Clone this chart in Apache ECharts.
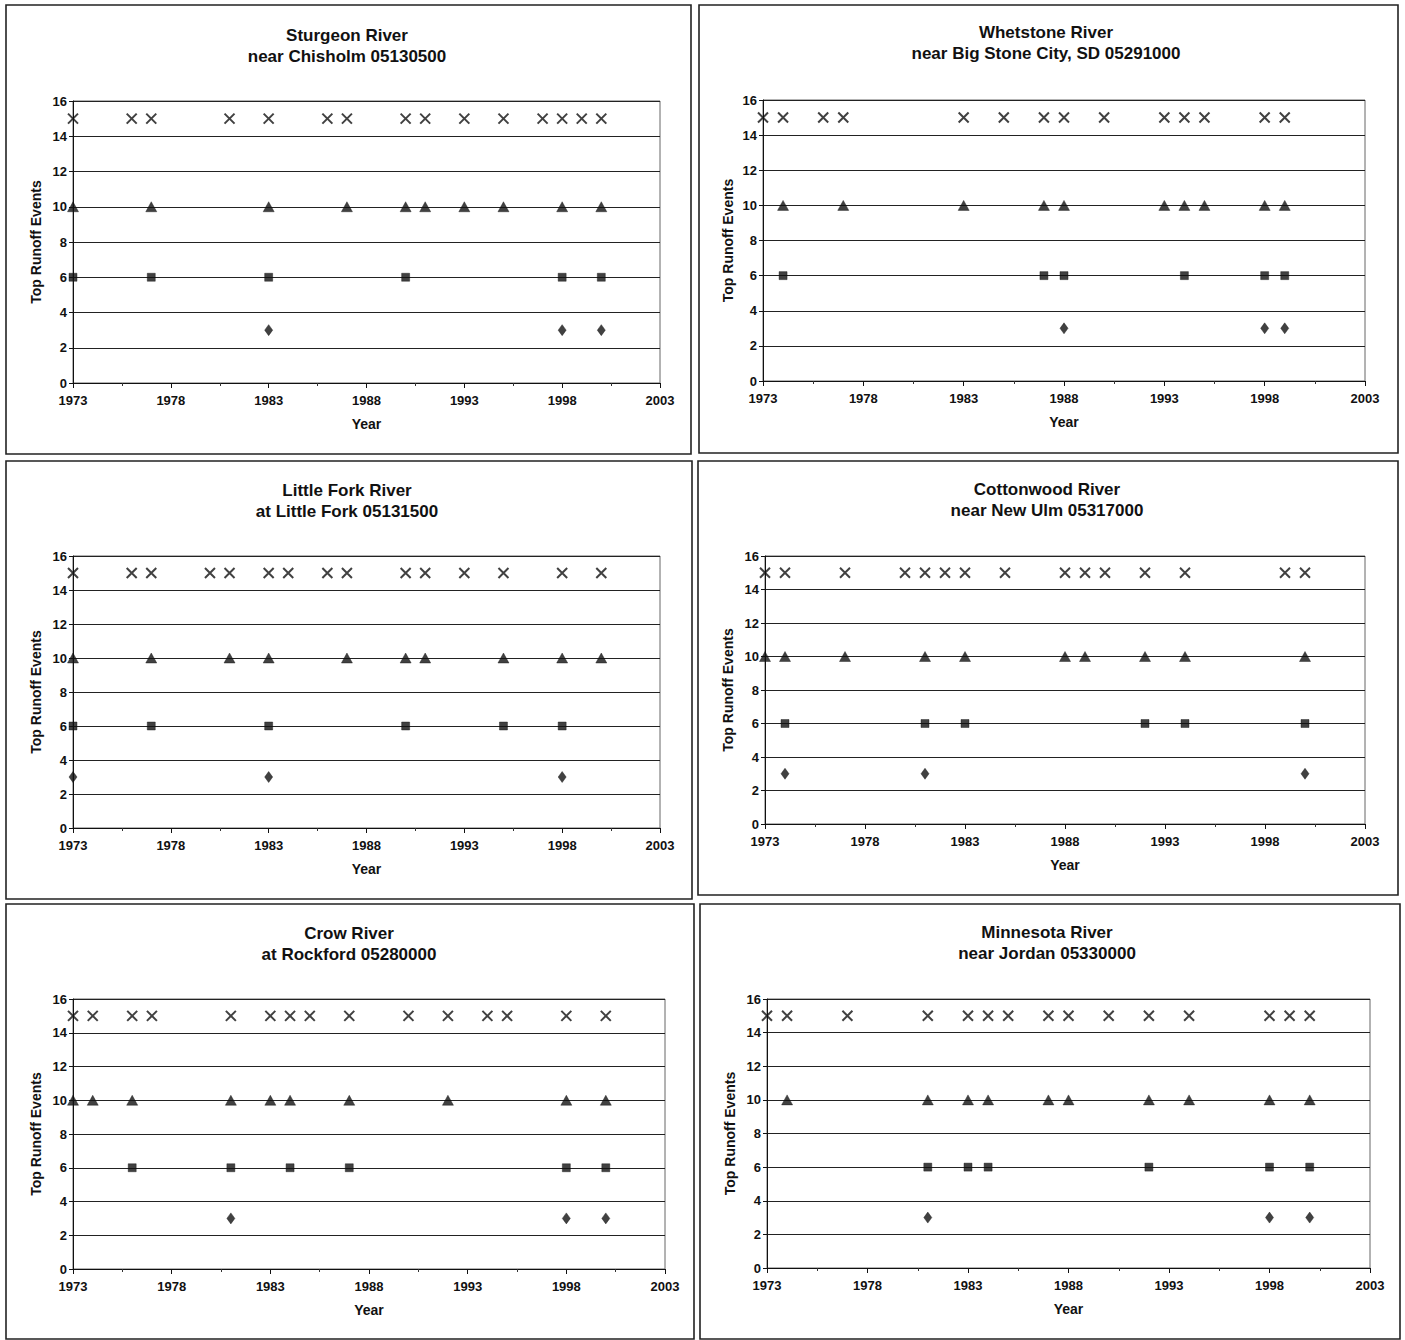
<!DOCTYPE html>
<html><head><meta charset="utf-8">
<script src="https://cdn.jsdelivr.net/npm/echarts@6/dist/echarts.min.js"></script>
<style>html,body{margin:0;padding:0;background:#fff}#c{width:1405px;height:1340px}</style>
</head><body><div id="c"></div>
<script>
// ---------- DATA ----------
const yearTicks = [1973, 1978, 1983, 1988, 1993, 1998, 2003];
const valueTicks = [0, 2, 4, 6, 8, 10, 12, 14, 16];
const levels = [15, 10, 6, 3];   // X = 15, triangle = 10, square = 6, diamond = 3
const seriesNames = ['Top 15', 'Top 10', 'Top 6', 'Top 3'];

const titles = [
  'Sturgeon River\nnear Chisholm 05130500',
  'Whetstone River\nnear Big Stone City, SD 05291000',
  'Little Fork River\nat Little Fork 05131500',
  'Cottonwood River\nnear New Ulm 05317000',
  'Crow River\nat Rockford 05280000',
  'Minnesota River\nnear Jordan 05330000'
];

const sturgeon15 = [1973,1976,1977,1981,1983,1986,1987,1990,1991,1993,1995,1997,1998,1999,2000];
const sturgeon10 = [1973,1977,1983,1987,1990,1991,1993,1995,1998,2000];
const sturgeon6  = [1973,1977,1983,1990,1998,2000];
const sturgeon3  = [1983,1998,2000];

const whetstone15 = [1973,1974,1976,1977,1983,1985,1987,1988,1990,1993,1994,1995,1998,1999];
const whetstone10 = [1974,1977,1983,1987,1988,1993,1994,1995,1998,1999];
const whetstone6  = [1974,1987,1988,1994,1998,1999];
const whetstone3  = [1988,1998,1999];

const littleFork15 = [1973,1976,1977,1980,1981,1983,1984,1986,1987,1990,1991,1993,1995,1998,2000];
const littleFork10 = [1973,1977,1981,1983,1987,1990,1991,1995,1998,2000];
const littleFork6  = [1973,1977,1983,1990,1995,1998];
const littleFork3  = [1973,1983,1998];

const cottonwood15 = [1973,1974,1977,1980,1981,1982,1983,1985,1988,1989,1990,1992,1994,1999,2000];
const cottonwood10 = [1973,1974,1977,1981,1983,1988,1989,1992,1994,2000];
const cottonwood6  = [1974,1981,1983,1992,1994,2000];
const cottonwood3  = [1974,1981,2000];

const crow15 = [1973,1974,1976,1977,1981,1983,1984,1985,1987,1990,1992,1994,1995,1998,2000];
const crow10 = [1973,1974,1976,1981,1983,1984,1987,1992,1998,2000];
const crow6  = [1976,1981,1984,1987,1998,2000];
const crow3  = [1981,1998,2000];

const minnesota15 = [1973,1974,1977,1981,1983,1984,1985,1987,1988,1990,1992,1994,1998,1999,2000];
const minnesota10 = [1974,1981,1983,1984,1987,1988,1992,1994,1998,2000];
const minnesota6  = [1981,1983,1984,1992,1998,2000];
const minnesota3  = [1981,1998,2000];

const panelSets = [
  [sturgeon15, sturgeon10, sturgeon6, sturgeon3],
  [whetstone15, whetstone10, whetstone6, whetstone3],
  [littleFork15, littleFork10, littleFork6, littleFork3],
  [cottonwood15, cottonwood10, cottonwood6, cottonwood3],
  [crow15, crow10, crow6, crow3],
  [minnesota15, minnesota10, minnesota6, minnesota3]
];

// ---------- LAYOUT ----------
const frames = [
  [6, 5, 685, 449], [699, 5, 699, 448],
  [6, 461, 686, 438], [698, 461, 700, 434],
  [6, 904, 688, 435], [700, 904, 700, 435]
];
const grids = [
  [73, 101, 587, 282], [763, 100, 602, 281],
  [73, 556, 587, 272], [765, 556, 600, 268],
  [73, 999, 592, 270], [767, 999, 603, 269]
];
const titlePos = [[342, 20], [1041, 17], [342, 475], [1042, 474], [344, 918], [1042, 917]];
const yNameGap = [30, 28, 30, 30, 30, 30];

const FONT = '"Liberation Sans", Arial, sans-serif';
const symbols = ['path://M0,0L10,10M10,0L0,10', 'triangle', 'rect', 'diamond'];
const symbolSizes = [10, [11, 10], 8, [8, 11]];

const option = {
  animation: false,
  backgroundColor: '#fff',
  title: [], grid: [], xAxis: [], yAxis: [], series: [], graphic: []
};

frames.forEach(f => {
  option.graphic.push({
    type: 'rect', shape: {x: f[0], y: f[1], width: f[2], height: f[3]},
    style: {fill: 'none', stroke: '#222', lineWidth: 1.6}, z: -1
  });
});

for (let i = 0; i < 6; i++) {
  const g = grids[i];
  option.title.push({
    text: titles[i], left: titlePos[i][0], top: titlePos[i][1], textAlign: 'center',
    textStyle: {fontFamily: FONT, fontSize: 17, fontWeight: 'bold', color: '#111', lineHeight: 21}
  });
  option.grid.push({
    left: g[0], top: g[1], width: g[2], height: g[3],
    show: true, borderColor: '#666', borderWidth: 1
  });
  option.xAxis.push({
    type: 'value', gridIndex: i,
    min: yearTicks[0], max: yearTicks[yearTicks.length - 1],
    interval: yearTicks[1] - yearTicks[0],
    name: 'Year', nameLocation: 'middle', nameGap: 34,
    nameTextStyle: {fontFamily: FONT, fontSize: 14, fontWeight: 'bold', color: '#111'},
    axisLine: {show: true, lineStyle: {color: '#111', width: 1}},
    axisTick: {show: true, length: 5, lineStyle: {color: '#111'}},
    minorTick: {show: true, splitNumber: 2, length: 3, lineStyle: {color: '#333'}},
    splitLine: {show: false},
    axisLabel: {fontFamily: FONT, fontSize: 13, fontWeight: 'bold', color: '#111', margin: 11,
                formatter: v => String(v)}
  });
  option.yAxis.push({
    type: 'value', gridIndex: i,
    min: valueTicks[0], max: valueTicks[valueTicks.length - 1],
    interval: valueTicks[1] - valueTicks[0],
    name: 'Top Runoff Events', nameLocation: 'middle', nameGap: yNameGap[i],
    nameTextStyle: {fontFamily: FONT, fontSize: 14, fontWeight: 'bold', color: '#111'},
    axisLine: {show: true, lineStyle: {color: '#111', width: 1}},
    axisTick: {show: true, length: 4, lineStyle: {color: '#111'}},
    splitLine: {show: true, lineStyle: {color: '#222', width: 1}},
    axisLabel: {fontFamily: FONT, fontSize: 13, fontWeight: 'bold', color: '#111', margin: 6}
  });
  panelSets[i].forEach((years, k) => {
    option.series.push({
      type: 'scatter', name: seriesNames[k], xAxisIndex: i, yAxisIndex: i,
      data: years.map(y => [y, levels[k]]),
      symbol: symbols[k], symbolSize: symbolSizes[k],
      itemStyle: k === 0
        ? {color: 'rgba(0,0,0,0)', borderColor: '#111', borderWidth: 2}
        : {color: '#111', borderColor: '#111', borderWidth: 0.5},
      emphasis: {disabled: true},
      z: 3
    });
  });
}

const chart = echarts.init(document.getElementById('c'), null, {renderer: 'svg'});
chart.setOption(option);
</script>
</body></html>
